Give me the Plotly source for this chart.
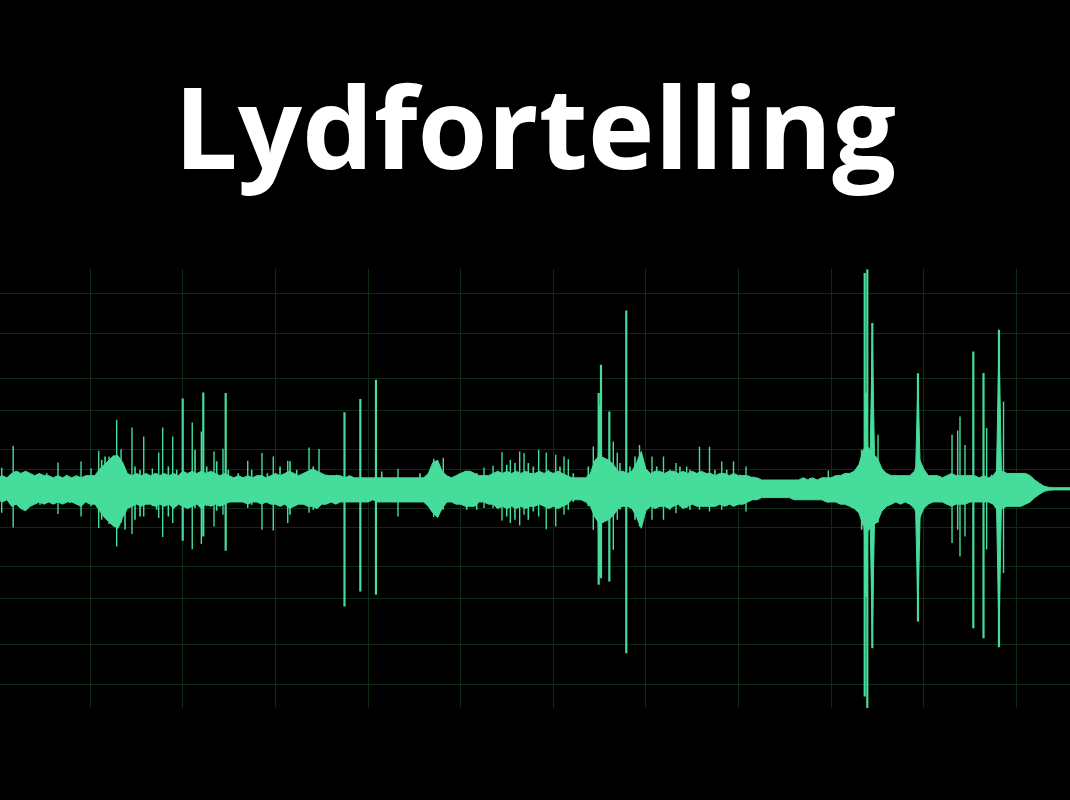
import plotly.graph_objects as go

# ---- data -------------------------------------------------------------
title_text = "Lydfortelling"

# envelope sampled every 0.05 s, starting at t = 0 s (amplitude in % of full scale)
env_step = 0.05
env_upper = [
    5, 6, 5, 7, 8, 7, 8, 7, 6, 7, 6, 6, 5, 6, 5, 6, 5, 6, 5, 6,
    6, 6, 9, 11, 13, 15, 15, 12, 7, 6, 7, 6, 7, 6, 7, 6, 7, 6, 7, 6,
    8, 7, 8, 7, 8, 7, 8, 7, 6, 7, 6, 5, 6, 5, 6, 5, 6, 6, 5, 6,
    7, 6, 7, 8, 7, 6, 7, 8, 9, 8, 7, 6, 6, 6, 6, 5, 6, 5, 5, 5,
    5, 5, 5, 5, 5, 5, 5, 5, 5, 5, 5, 5, 5, 7, 12, 13, 8, 6, 5, 6,
    7, 8, 8, 7, 6, 6, 6, 7, 8, 7, 8, 7, 8, 7, 8, 7, 7, 8, 7, 8,
    7, 8, 7, 6, 5, 5, 5, 5, 7, 13, 15, 14, 13, 11, 8, 8, 7, 8, 12, 17,
    9, 7, 8, 8, 7, 8, 8, 7, 8, 7, 8, 7, 8, 7, 7, 6, 7, 7, 6, 7,
    6, 6, 6, 5, 5, 4, 4, 4, 4, 4, 4, 4, 4, 4, 5, 4, 5, 4, 5, 5,
    5, 6, 6, 7, 7, 8, 11, 18, 19, 16, 14, 9, 7, 6, 6, 6, 6, 6, 8, 14,
    9, 6, 6, 6, 5, 6, 7, 6, 6, 6, 6, 6, 5, 6, 5, 6, 9, 8, 7, 7,
    7, 7, 7, 6, 4, 2.5, 1.2, 0.7, 0.5, 0.5, 0.5, 0.5, 0.5,
]
env_lower = [
    5, 6, 5, 8, 7, 9, 10, 8, 7, 6, 7, 6, 7, 6, 7, 6, 6, 7, 8, 6,
    7, 7, 10, 13, 15, 17, 18, 13, 9, 8, 7, 8, 7, 7, 8, 7, 8, 7, 9, 7,
    8, 9, 8, 7, 9, 7, 8, 7, 8, 7, 6, 6, 6, 6, 7, 6, 6, 7, 6, 7,
    7, 8, 7, 9, 8, 7, 7, 8, 8, 9, 7, 7, 6, 7, 6, 6, 6, 6, 6, 6,
    6, 5, 6, 6, 6, 6, 6, 6, 6, 6, 6, 6, 6, 8, 11, 13, 9, 6, 6, 7,
    7, 8, 8, 8, 6, 6, 7, 7, 9, 8, 9, 8, 9, 8, 9, 8, 8, 7, 8, 9,
    8, 9, 8, 7, 5, 5, 5, 6, 8, 13, 16, 15, 14, 12, 9, 8, 8, 9, 13, 18,
    10, 8, 9, 8, 8, 9, 8, 7, 9, 8, 7, 8, 8, 8, 8, 8, 7, 8, 7, 8,
    7, 7, 6, 5, 5, 4, 4, 4, 4, 4, 4, 4, 5, 5, 5, 5, 5, 5, 5, 6,
    6, 6, 7, 7, 8, 9, 11, 17, 19, 17, 15, 10, 8, 7, 6, 7, 6, 7, 9, 14,
    9, 7, 6, 6, 6, 7, 8, 7, 7, 7, 6, 6, 6, 6, 6, 7, 10, 9, 8, 8,
    8, 8, 7, 6, 4, 2.5, 1.2, 0.7, 0.5, 0.5, 0.5, 0.5, 0.5,
]

# transient peaks: time (s), positive peak (%), negative peak (%)
spike_t = [0.043, 0.167, 0.651, 0.900, 1.008, 1.091, 1.202, 1.285, 1.332, 1.450,
           1.577, 1.670, 1.739, 1.782, 1.890, 1.998, 2.101, 2.199, 2.220, 2.336,
           2.433, 2.462, 2.700, 2.854, 2.976, 3.132, 3.362, 3.470, 3.745, 3.916,
           4.085, 4.323, 4.708, 4.812, 5.252, 5.349, 5.446, 5.536, 5.637, 5.684,
           5.842, 5.924, 6.026, 6.116, 6.162, 6.432, 6.490, 6.515, 6.605, 6.648,
           6.691, 6.788, 6.931, 7.066, 7.190, 7.325, 7.441, 7.579, 7.687, 7.819,
           7.946, 8.081, 8.970, 9.363, 9.377, 9.391, 9.445, 9.507, 9.938, 10.306,
           10.367, 10.392, 10.446, 10.536, 10.646, 10.680, 10.813, 10.862]
spike_up = [9.6, 19.6, 12, 12.4, 9.4, 17.3, 14.7, 31.4, 18, 27.9,
            23.8, 9.3, 16.5, 27.9, 23.8, 41.1, 30.2, 26.1, 43.9, 17,
            18.2, 43.6, 12.8, 16.3, 14.7, 12.8, 18.8, 18.1, 34.9, 40.9,
            49.7, 9.1, 13.7, 14.1, 9.7, 10.5, 16.7, 13.2, 17, 16.3,
            17.8, 16.5, 15.5, 14.7, 13.5, 19.3, 43.6, 56.5, 35.2, 21.5,
            16.4, 81.2, 20, 14.7, 14.7, 11.7, 10.2, 19.1, 19.1, 12.4,
            12.4, 10.2, 8.3, 98.3, 43.7, 100, 75.5, 24.6, 52.6, 24.6,
            26.6, 32.9, 20, 62.6, 52.7, 27.7, 72.4, 39.8]
spike_down = [10.9, 17.6, 11.5, 12.6, 8, 17.9, 16, 26.3, 15.5, 20.6,
              12.6, 8, 13.3, 22, 15.6, 23.7, 27.5, 25.2, 21.7, 17.2,
              11.8, 28.2, 8.8, 18.7, 19, 15.6, 10.9, 7.3, 53.6, 46.8,
              48.3, 12.6, 12.8, 9.6, 8.7, 8.7, 14.4, 15.6, 16.7, 11.8,
              12.6, 18.4, 17.2, 11.8, 9.6, 18.7, 43.7, 40.7, 42.2, 27.8,
              14.1, 74.9, 17.2, 14.1, 14.1, 11.1, 8.7, 9.6, 10.3, 9.6,
              7.3, 10.3, 6.4, 94.6, 49.2, 100, 72.6, 15.5, 60.5, 24.7,
              18.7, 30.8, 21.7, 63.5, 68.1, 27.6, 72.2, 38.4]

# broad, decaying bursts (filled body around the biggest transients)
burst_t = [6.503, 9.377, 9.445, 9.938, 10.813]
burst_up = [38, 43.7, 70, 50, 68]
burst_down = [40, 49.2, 68, 57, 68]

# small ragged peaks on the edge of the noise floor
tooth_t = [0.223, 0.259, 0.313, 0.457, 0.529, 0.745, 0.781, 1.123, 1.159, 1.375,
           1.483, 1.537, 1.717, 1.843, 1.933, 2.131, 2.257, 2.365, 2.490, 2.598,
           2.743, 2.912, 3.049, 3.157, 3.229, 3.408, 3.553, 3.661, 4.147, 4.560,
           4.758, 4.993, 5.065, 5.173, 5.497, 5.586, 5.730, 5.784, 5.946, 6.072,
           6.216, 6.378, 6.720, 6.828, 6.882, 7.009, 7.117, 7.260, 7.368, 7.476,
           7.620, 7.746, 7.873, 8.016, 8.160, 8.628, 8.770, 9.168, 9.240, 9.330,
           9.564, 9.636, 9.744, 9.852, 10.176, 10.734, 10.932, 10.986, 11.058, 11.112]
tooth_up = [7.9, 6, 7.9, 6, 7.1, 6.4, 5, 13.2, 14.7, 8,
            10.2, 8.7, 7.1, 10.2, 8.7, 17.8, 10.2, 12.5, 8.7, 7.1,
            8.7, 7.1, 10.2, 12.5, 8.7, 10.2, 6.4, 6.4, 7.9, 7.1,
            11.7, 7.1, 7.9, 7.1, 10.9, 11.7, 11.7, 10.2, 8.7, 10.2,
            7.1, 10.2, 11.7, 10.2, 14.7, 8.7, 10.2, 8.7, 10.2, 8.7,
            7.1, 8.7, 8.7, 6.4, 5.6, 4.1, 4.9, 6.4, 7.1, 17.8,
            7.1, 5.6, 5.6, 4.9, 5.6, 6.4, 7.1, 7.1, 6.4, 5.6]
tooth_down = [6, 8.8, 6.5, 7.3, 6, 5, 6.5, 14.1, 12.6, 18.5,
              14.1, 12.6, 9.6, 12.6, 8, 8.8, 8, 10, 6.5, 5.8,
              7.3, 6.5, 8, 11.8, 7.3, 9.6, 5.8, 5, 5, 5,
              12.6, 6.5, 9.6, 9.6, 12.6, 14.1, 14.1, 10.3, 8, 6.5,
              6, 8, 9.6, 6.5, 14.1, 8, 7.3, 9.6, 8, 9.6,
              5.8, 5, 8, 5, 5, 4.3, 5, 5, 6.5, 18.7,
              9.6, 6.5, 5.8, 5, 5, 6.5, 5.8, 6.5, 5.8, 5]

grid_seconds = [1, 2, 3, 4, 5, 6, 7, 8, 9, 10, 11]
grid_db = [-1, -3, -6, -9, -15, -21]

# ---- figure -----------------------------------------------------------
GREEN = "#46dc9b"
GRID = "#0e2a12"
BURST_HALF_WIDTH = 0.03  # seconds at the base of a burst

env_t = [i * env_step for i in range(len(env_upper))]

fig = go.Figure()
fig.add_trace(go.Scatter(x=env_t, y=[-v for v in env_lower], mode="lines",
                         line=dict(color=GREEN, width=1, simplify=False),
                         hoverinfo="skip"))
fig.add_trace(go.Scatter(x=env_t, y=env_upper, mode="lines", fill="tonexty",
                         fillcolor=GREEN,
                         line=dict(color=GREEN, width=1, simplify=False),
                         hoverinfo="skip"))

# burst bodies as tapered diamonds
bx, by = [], []
for t, u, d in zip(burst_t, burst_up, burst_down):
    bx += [t - BURST_HALF_WIDTH, t, t + BURST_HALF_WIDTH, t, t - BURST_HALF_WIDTH, None]
    by += [0, u, 0, -d, 0, None]
fig.add_trace(go.Scatter(x=bx, y=by, mode="lines", fill="toself",
                         fillcolor=GREEN, line=dict(color=GREEN, width=1),
                         hoverinfo="skip"))

def peak_path(ts, ups, downs, sel):
    xs, ys = [], []
    for t, u, d in zip(ts, ups, downs):
        if sel(u, d):
            xs += [t, t, None]
            ys += [u, -d, None]
    return xs, ys

xs, ys = peak_path(tooth_t, tooth_up, tooth_down, lambda u, d: True)
fig.add_trace(go.Scatter(x=xs, y=ys, mode="lines",
                         line=dict(color=GREEN, width=1.6, simplify=False),
                         hoverinfo="skip"))
xs, ys = peak_path(spike_t, spike_up, spike_down, lambda u, d: max(u, d) < 40)
fig.add_trace(go.Scatter(x=xs, y=ys, mode="lines",
                         line=dict(color=GREEN, width=1.4, simplify=False),
                         hoverinfo="skip"))
xs, ys = peak_path(spike_t, spike_up, spike_down, lambda u, d: max(u, d) >= 40)
fig.add_trace(go.Scatter(x=xs, y=ys, mode="lines",
                         line=dict(color=GREEN, width=2.2, simplify=False),
                         hoverinfo="skip"))

grid_pct = [100 * 10 ** (db / 20) for db in grid_db]
ytick = sorted(grid_pct + [-g for g in grid_pct])

fig.update_layout(
    width=1070, height=800,
    margin=dict(l=0, r=0, t=0, b=0),
    paper_bgcolor="black", plot_bgcolor="black",
    showlegend=False,
    xaxis=dict(range=[0.0248, 11.58], domain=[0, 1], tickvals=grid_seconds,
               showgrid=True, gridcolor=GRID, gridwidth=1, zeroline=False,
               showticklabels=False, showline=False, ticks=""),
    yaxis=dict(range=[-100, 100], domain=[0.1146, 0.6634], tickvals=ytick,
               showgrid=True, gridcolor=GRID, gridwidth=1, zeroline=False,
               showticklabels=False, showline=False, ticks=""),
    annotations=[dict(text=title_text, xref="paper", yref="paper",
                      x=0.5, y=0.844, xanchor="center", yanchor="middle",
                      showarrow=False,
                      font=dict(family="Open Sans", size=113, color="white",
                                weight="bold"))],
)

fig.write_html("out.html")
